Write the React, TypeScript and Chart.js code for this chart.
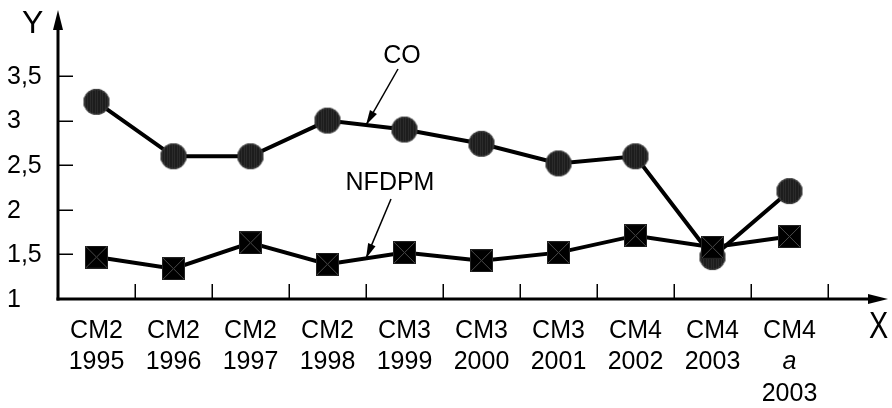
import React, { useEffect, useRef } from "react";
import { Chart, registerables } from "chart.js";

Chart.register(...registerables);

const xRow1 = ["CM2", "CM2", "CM2", "CM2", "CM3", "CM3", "CM3", "CM4", "CM4", "CM4"];
const xRow2 = ["1995", "1996", "1997", "1998", "1999", "2000", "2001", "2002", "2003", "a"];
const xRow3 = ["", "", "", "", "", "", "", "", "", "2003"];
const categories = xRow1.map((c, i) => c + " " + xRow2[i] + (xRow3[i] ? " " + xRow3[i] : ""));

const coValues = [3.21, 2.6, 2.6, 3.0, 2.9, 2.74, 2.52, 2.6, 1.47, 2.21];
const nfdpmValues = [1.47, 1.34, 1.63, 1.39, 1.52, 1.43, 1.52, 1.71, 1.58, 1.7];

const yTicks = [1, 1.5, 2, 2.5, 3, 3.5];
const seriesNames = ["CO", "NFDPM"];

const FONT = "'Liberation Sans', Arial, sans-serif";

function makeCircle(r: number): HTMLCanvasElement {
  const c = document.createElement("canvas");
  const s = r * 2 + 2;
  c.width = s;
  c.height = s;
  const ctx = c.getContext("2d")!;
  ctx.beginPath();
  ctx.arc(s / 2, s / 2, r, 0, Math.PI * 2);
  ctx.fillStyle = "#3a3a3a";
  ctx.fill();
  ctx.save();
  ctx.clip();
  ctx.strokeStyle = "#000";
  ctx.lineWidth = 1;
  for (let x = 1.5; x < s; x += 2.5) {
    ctx.beginPath();
    ctx.moveTo(x, 0);
    ctx.lineTo(x, s);
    ctx.stroke();
  }
  ctx.restore();
  ctx.beginPath();
  ctx.arc(s / 2, s / 2, r - 0.5, 0, Math.PI * 2);
  ctx.strokeStyle = "#444";
  ctx.lineWidth = 1;
  ctx.stroke();
  return c;
}

function makeSquare(size: number): HTMLCanvasElement {
  const c = document.createElement("canvas");
  c.width = size;
  c.height = size;
  const ctx = c.getContext("2d")!;
  ctx.fillStyle = "#000";
  ctx.fillRect(0, 0, size, size);
  ctx.strokeStyle = "#4a4a4a";
  ctx.lineWidth = 1;
  ctx.beginPath();
  ctx.moveTo(1, 1);
  ctx.lineTo(size - 1, size - 1);
  ctx.moveTo(size - 1, 1);
  ctx.lineTo(1, size - 1);
  ctx.stroke();
  ctx.strokeStyle = "#222";
  ctx.strokeRect(0.5, 0.5, size - 1, size - 1);
  return c;
}

function arrowHead(ctx: CanvasRenderingContext2D, x1: number, y1: number, x2: number, y2: number, len: number, half: number) {
  const a = Math.atan2(y2 - y1, x2 - x1);
  ctx.beginPath();
  ctx.moveTo(x2, y2);
  ctx.lineTo(x2 - len * Math.cos(a) + half * Math.sin(a), y2 - len * Math.sin(a) - half * Math.cos(a));
  ctx.lineTo(x2 - len * Math.cos(a) - half * Math.sin(a), y2 - len * Math.sin(a) + half * Math.cos(a));
  ctx.closePath();
  ctx.fill();
}

const axesPlugin = {
  id: "axesPlugin",
  beforeDatasetsDraw(chart: any) {
    const ctx: CanvasRenderingContext2D = chart.ctx;
    const xs = chart.scales.x;
    const ys = chart.scales.y;
    const x0 = chart.chartArea.left;
    const y0 = ys.getPixelForValue(yTicks[0]);
    ctx.save();
    ctx.strokeStyle = "#000";
    ctx.fillStyle = "#000";
    ctx.lineWidth = 3;
    ctx.beginPath();
    ctx.moveTo(x0, y0 + 1.5);
    ctx.lineTo(x0, 26);
    ctx.stroke();
    ctx.beginPath();
    ctx.moveTo(x0, 10);
    ctx.lineTo(x0 - 5, 30);
    ctx.lineTo(x0 + 5, 30);
    ctx.closePath();
    ctx.fill();
    ctx.beginPath();
    ctx.moveTo(x0 - 1.5, y0);
    ctx.lineTo(872, y0);
    ctx.stroke();
    ctx.beginPath();
    ctx.moveTo(888, y0);
    ctx.lineTo(868, y0 - 5);
    ctx.lineTo(868, y0 + 5);
    ctx.closePath();
    ctx.fill();
    ctx.lineWidth = 1.5;
    yTicks.slice(1).forEach((v) => {
      const py = Math.round(ys.getPixelForValue(v)) + 0.25;
      ctx.beginPath();
      ctx.moveTo(x0, py);
      ctx.lineTo(x0 + 15, py);
      ctx.stroke();
    });
    for (let i = 0; i < categories.length; i++) {
      const px = Math.round(xs.getPixelForValue(i + 0.5)) + 0.25;
      ctx.beginPath();
      ctx.moveTo(px, y0);
      ctx.lineTo(px, y0 - 15);
      ctx.stroke();
    }
    ctx.restore();
  },
  afterDraw(chart: any) {
    const ctx: CanvasRenderingContext2D = chart.ctx;
    const xs = chart.scales.x;
    const ys = chart.scales.y;
    ctx.save();
    ctx.fillStyle = "#000";
    ctx.strokeStyle = "#000";
    ctx.font = `25px ${FONT}`;
    ctx.textAlign = "left";
    ctx.textBaseline = "middle";
    yTicks.forEach((v) => {
      ctx.fillText(String(v).replace(".", ","), 7, ys.getPixelForValue(v) + 1);
    });
    ctx.textAlign = "center";
    ctx.textBaseline = "alphabetic";
    categories.forEach((_, i) => {
      const px = xs.getPixelForValue(i);
      ctx.font = `25px ${FONT}`;
      ctx.fillText(xRow1[i], px, 338);
      ctx.font = xRow2[i] === "a" ? `italic 25px ${FONT}` : `25px ${FONT}`;
      ctx.fillText(xRow2[i], px, 369);
      ctx.font = `25px ${FONT}`;
      if (xRow3[i]) ctx.fillText(xRow3[i], px, 401);
    });
    ctx.font = `32px ${FONT}`;
    ctx.textAlign = "left";
    ctx.fillText("Y", 22, 33);
    ctx.save();
    ctx.translate(869, 338);
    ctx.scale(0.8, 1);
    ctx.font = `36px ${FONT}`;
    ctx.fillText("X", 0, 0);
    ctx.restore();
    ctx.font = `25px ${FONT}`;
    ctx.textAlign = "center";
    ctx.fillText(seriesNames[0], 402, 63);
    ctx.fillText(seriesNames[1], 390, 190);
    const drawArrow = (sx: number, sy: number, values: number[]) => {
      const tx = xs.getPixelForValue(3.5);
      const ty = ys.getPixelForValue((values[3] + values[4]) / 2);
      ctx.lineWidth = 1.5;
      ctx.beginPath();
      ctx.moveTo(sx, sy);
      ctx.lineTo(tx, ty);
      ctx.stroke();
      arrowHead(ctx, sx, sy, tx, ty, 15, 4);
    };
    drawArrow(398, 69, coValues);
    drawArrow(391, 199, nfdpmValues);
    ctx.restore();
  },
};

export default function App() {
  const ref = useRef<HTMLCanvasElement | null>(null);
  useEffect(() => {
    document.body.style.margin = "0";
    const canvas = ref.current!;
    const circle = makeCircle(13);
    const square = makeSquare(23);
    const chart = new Chart(canvas, {
      type: "line",
      data: {
        labels: categories,
        datasets: [
          {
            label: seriesNames[0],
            data: coValues,
            borderColor: "#000",
            borderWidth: 4,
            pointStyle: circle as any,
            pointRadius: 13,
            clip: false as any,
            order: 2,
          },
          {
            label: seriesNames[1],
            data: nfdpmValues,
            borderColor: "#000",
            borderWidth: 4,
            pointStyle: square as any,
            pointRadius: 12,
            clip: false as any,
            order: 1,
          },
        ],
      },
      options: {
        responsive: false,
        animation: false,
        devicePixelRatio: 1,
        layout: { padding: { left: 58, right: 64, top: 76, bottom: 109 } },
        plugins: { legend: { display: false }, tooltip: { enabled: false } },
        scales: {
          x: { type: "category", offset: true, display: false },
          y: { type: "linear", min: 1, max: 3.5, display: false },
        },
      },
      plugins: [axesPlugin],
    });
    return () => chart.destroy();
  }, []);
  return (
    <div style={{ width: 892, height: 408 }}>
      <canvas ref={ref} width={892} height={408} style={{ display: "block", width: 892, height: 408 }} />
    </div>
  );
}
